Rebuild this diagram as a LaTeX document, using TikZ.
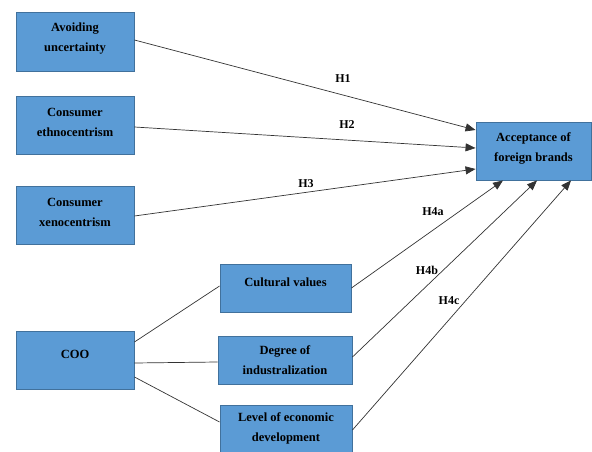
\documentclass[tikz,border=0pt]{standalone}
\usepackage{fontspec}
\setmainfont{Liberation Serif}
\usetikzlibrary{arrows.meta}
\definecolor{boxfill}{HTML}{5B9BD5}
\definecolor{boxline}{HTML}{41719C}
\tikzset{
  box/.style={draw=boxline, line width=0.9pt, fill=boxfill, rectangle, inner sep=0pt},
  boxtext/.style={align=center, font=\fontsize{12.5}{20}\selectfont\bfseries, text=black},
  conn/.style={draw=black!80, line width=0.7pt},
  arr/.style={conn, -{Triangle[length=10pt, width=8pt]}},
  hlab/.style={font=\fontsize{12}{14}\selectfont\bfseries, text=black, inner sep=0pt}
}
\begin{document}
\begin{tikzpicture}[x=1pt, y=-1pt]
\useasboundingbox (0,0) rectangle (592,452);
% boxes
\node[box, minimum width=118pt, minimum height=59pt,
  label={[boxtext, yshift=3pt]center:Avoiding\\uncertainty}] (avoid) at (75,41.5) {};
\node[box, minimum width=118pt, minimum height=58pt,
  label={[boxtext, yshift=3pt]center:Consumer\\ethnocentrism}] (ethno) at (75,125) {};
\node[box, minimum width=118pt, minimum height=58pt,
  label={[boxtext, yshift=3pt]center:Consumer\\xenocentrism}] (xeno) at (75,215) {};
\node[box, minimum width=118pt, minimum height=58pt,
  label={[boxtext, yshift=6pt]center:COO}] (coo) at (75,360) {};
\node[box, minimum width=131pt, minimum height=48pt,
  label={[boxtext, yshift=6pt]center:Cultural values}] (cult) at (285.5,288) {};
\node[box, minimum width=134pt, minimum height=48pt,
  label={[boxtext, yshift=0pt]center:Degree of\\industralization}] (deg) at (285,360) {};
\node[box, minimum width=132pt, minimum height=48pt,
  label={[boxtext, yshift=1pt]center:Level of economic\\development}] (lev) at (286,429) {};
\node[box, minimum width=115pt, minimum height=58pt,
  label={[boxtext, yshift=3pt]center:Acceptance of\\foreign brands}] (acc) at (533.5,151) {};
% arrows to acceptance
\draw[arr] ([yshift=1.5pt]avoid.east) -- ([yshift=21pt]acc.west);
\draw[arr] ([yshift=-2pt]ethno.east) -- ([yshift=3pt]acc.west);
\draw[arr] ([yshift=-1pt]xeno.east) -- ([yshift=-18pt]acc.west);
\draw[arr] (cult.east) -- ([xshift=-30.5pt]acc.south);
\draw[arr] ([yshift=3pt]deg.east) -- ([xshift=3.5pt]acc.south);
\draw[arr] ([yshift=-1pt]lev.east) -- ([xshift=37.5pt]acc.south);
% labels
\node[hlab] (h1) at (343,79) {H1};
\node[hlab] (h2) at (347,125) {H2};
\node[hlab] (h3) at (306,184) {H3};
\node[hlab] (h4a) at (433,212) {H4a};
\node[hlab] (h4b) at (427,270) {H4b};
\node[hlab] (h4c) at (449,301) {H4c};
% COO links
\draw[conn] ([yshift=18pt]coo.east) -- ([yshift=2pt]cult.west);
\draw[conn] ([yshift=-3pt]coo.east) -- ([yshift=-2pt]deg.west);
\draw[conn] ([yshift=-17pt]coo.east) -- ([yshift=7pt]lev.west);
\end{tikzpicture}
\end{document}
